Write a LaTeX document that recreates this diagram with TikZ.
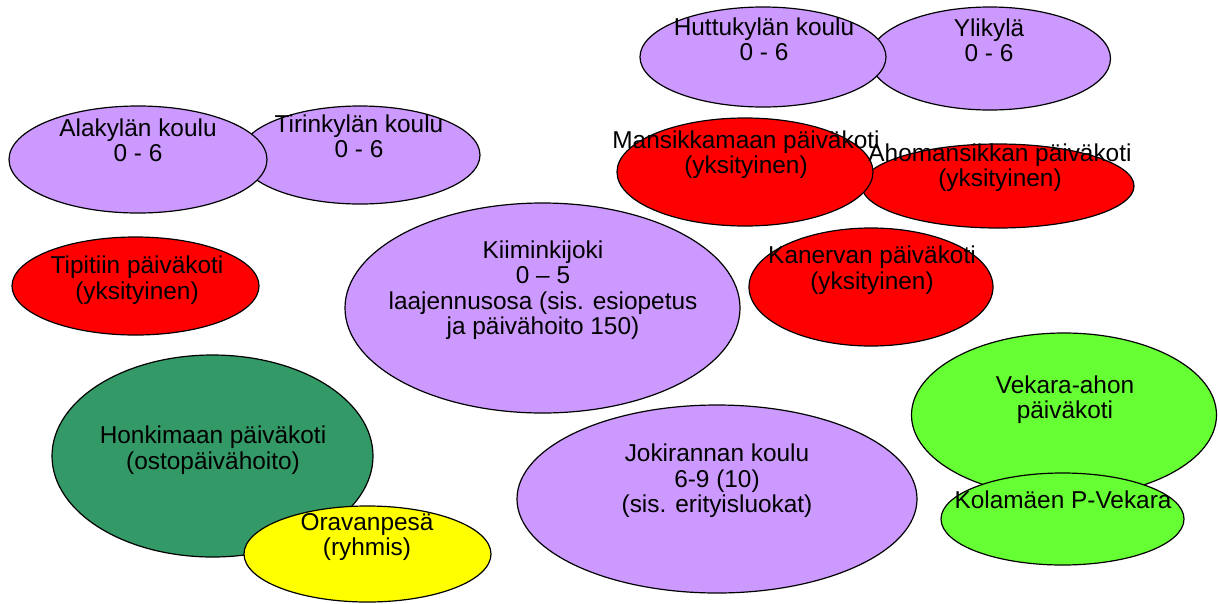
\documentclass[tikz,border=0pt]{standalone}
\usepackage{fontspec}
\setmainfont{Liberation Sans}
\definecolor{lav}{RGB}{204,153,255}
\definecolor{rd}{RGB}{255,0,0}
\definecolor{dgreen}{RGB}{51,153,102}
\definecolor{lgreen}{RGB}{102,255,51}
\definecolor{yel}{RGB}{255,255,0}
\tikzset{
  blob/.style={ellipse, draw=black, line width=1.2pt, inner sep=0pt},
  lbl/.style={align=center, inner sep=0pt, font=\fontsize{24.4}{25.5}\selectfont, text=black},
}
\usetikzlibrary{shapes.geometric}
\begin{document}
\begin{tikzpicture}[x=1pt,y=-1pt]
\useasboundingbox (0,0) rectangle (1218,603);
% shapes
\node[blob, fill=lav, minimum width=241pt, minimum height=103pt] (yli) at (990,58.5) {};
\node[blob, fill=lav, minimum width=246pt, minimum height=100pt] (hut) at (763,57) {};
\node[blob, fill=lav, minimum width=240pt, minimum height=98pt] (tir) at (360,155) {};
\node[blob, fill=lav, minimum width=258pt, minimum height=107pt] (ala) at (138,159.5) {};
\node[blob, fill=rd, minimum width=272pt, minimum height=84pt] (aho) at (998,186) {};
\node[blob, fill=rd, minimum width=256pt, minimum height=108pt] (man) at (745,172) {};
\node[blob, fill=rd, minimum width=247pt, minimum height=98pt] (tip) at (135.5,286) {};
\node[blob, fill=lav, minimum width=395pt, minimum height=210pt] (kii) at (542.5,308) {};
\node[blob, fill=rd, minimum width=244pt, minimum height=118pt] (kan) at (871,287) {};
\node[blob, fill=lgreen, minimum width=305pt, minimum height=164pt] (vek) at (1064,415) {};
\node[blob, fill=lgreen, minimum width=243pt, minimum height=92pt] (kol) at (1062.5,519) {};
\node[blob, fill=lav, minimum width=400pt, minimum height=188pt] (jok) at (717,499) {};
\node[blob, fill=dgreen, minimum width=321pt, minimum height=202pt] (hon) at (212.5,456) {};
\node[blob, fill=yel, minimum width=247pt, minimum height=96pt] (ora) at (367.5,554) {};
% texts
\node[lbl] (thut) at (764,39.5) {Huttukylän koulu\\0 - 6};
\node[lbl] (tyli) at (989,40.5) {Ylikylä\\0 - 6};
\node[lbl] (tala) at (138,140.5) {Alakylän koulu\\0 - 6};
\node[lbl] (ttir) at (359,136.5) {Tirinkylän koulu\\0 - 6};
\node[lbl] (tman) at (746,154.5) {Mansikkamaan päiväkoti\\(yksityinen)};
\node[lbl] (taho) at (1000,167.5) {Ahomansikkan päiväkoti\\(yksityinen)};
\node[lbl] (ttip) at (137,280) {Tipitiin päiväkoti\\(yksityinen)};
\node[lbl] (tkii) at (543,290) {Kiiminkijoki\\0 -- 5\\laajennusosa (sis. esiopetus\\ja päivähoito 150)};
\node[lbl] (tkan) at (872,270) {Kanervan päiväkoti\\(yksityinen)};
\node[lbl] (tvek) at (1065,399.5) {Vekara-ahon\\päiväkoti};
\node[lbl] (tkol) at (1063,500) {Kolamäen P-Vekara};
\node[lbl] (tjok) at (717,481) {Jokirannan koulu\\6-9 (10)\\(sis. erityisluokat)};
\node[lbl] (thon) at (213,450) {Honkimaan päiväkoti\\(ostopäivähoito)};
\node[lbl] (tora) at (367,537) {Oravanpesä\\(ryhmis)};
\end{tikzpicture}
\end{document}
